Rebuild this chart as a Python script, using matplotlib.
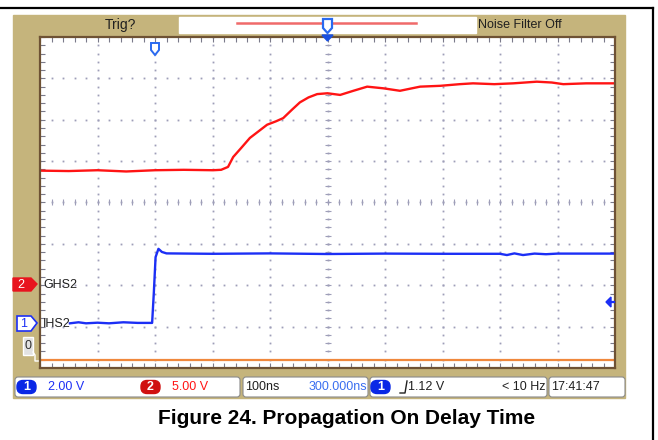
"""
Oscilloscope capture: propagation on delay time (IHS2 -> GHS2).
Screen is redrawn with matplotlib, traces from read-off points.
"""
import matplotlib
matplotlib.use("Agg")
import matplotlib.pyplot as plt
from matplotlib import font_manager
from matplotlib.patches import Rectangle, Polygon, FancyBboxPatch

W, H = 658, 440
BOLD_SANS = ["Liberation Sans", "Arial", "DejaVu Sans"]

# scope font is a narrow sans; use one if installed, else shrink regular sans
_names = {f.name for f in font_manager.fontManager.ttflist}
if "Liberation Sans Narrow" in _names:
    NARROW, NSIZE = ["Liberation Sans Narrow", "DejaVu Sans"], 11
else:
    NARROW, NSIZE = ["Liberation Sans", "DejaVu Sans"], 9

TAN = "#c5b47c"
BROWN = "#6e5234"
GRID = "#9e9eb8"
RED = "#ff1414"
BLUE = "#1c2ff5"
ORANGE = "#f0883c"

# scope settings
T_PER_DIV = 100.0       # ns/div
T_LEFT = -200.0         # ns at left edge of screen
CH1_V_PER_DIV = 2.0
CH2_V_PER_DIV = 5.0
CH1_GND_DIV = -2.92     # ground marker, divisions from center
CH2_GND_DIV = -2.0
REF_LINE_DIV = -3.8     # orange reference line

# CH1 (blue) IHS2, ns / V
ch1_t = [-148, -133, -120, -100, -80, -55, -30, -5, -2, 1, 6, 12, 20, 100, 200,
         300, 400, 500, 600, 612, 625, 640, 660, 680, 700, 800]
ch1_v = [0.0, 0.05, 0.0, 0.03, 0.0, 0.05, 0.02, 0.02, 1.5, 3.2, 3.6, 3.45, 3.38,
         3.36, 3.38, 3.35, 3.37, 3.36, 3.36, 3.3, 3.38, 3.3, 3.37, 3.34, 3.37, 3.37]

# CH2 (red) GHS2, ns / V
ch2_t = [-200, -150, -100, -50, 0, 50, 101, 115, 127, 136, 150, 165, 180, 195,
         210, 223, 238, 252, 267, 282, 300, 322, 345, 369, 397, 426, 461, 496,
         530, 553, 590, 623, 664, 690, 710, 750, 800]
ch2_v = [13.85, 13.8, 13.9, 13.75, 13.9, 13.95, 13.9, 13.95, 14.3, 15.5, 16.6,
         17.8, 18.6, 19.4, 19.8, 20.2, 21.2, 22.1, 22.7, 23.1, 23.2, 23.0, 23.5,
         24.0, 23.8, 23.5, 24.0, 24.1, 24.3, 24.4, 24.3, 24.4, 24.6, 24.5, 24.3,
         24.4, 24.4]


def to_div(t, v, vdiv, gnd):
    xs = [(ti - T_LEFT) / T_PER_DIV for ti in t]
    ys = [vi / vdiv + gnd for vi in v]
    return xs, ys


def overlay(z):
    a = fig.add_axes([0, 0, 1, 1], zorder=z)
    a.set_xlim(0, W)
    a.set_ylim(H, 0)
    a.axis("off")
    a.patch.set_alpha(0)
    return a


fig = plt.figure(figsize=(W / 100, H / 100), dpi=100)

# ========== background / frame (pixel coords) ==========
bg = overlay(0)
bg.plot([0, 653], [8, 8], color="black", lw=1.6)
bg.plot([653, 653], [8, H], color="black", lw=1.6)
bg.add_patch(Rectangle((13, 15), 612, 383, color=TAN))

# top bar
bg.text(120, 25, "Trig?", family=NARROW, fontsize=NSIZE + 1, ha="center", va="center", color="#202020")
bg.add_patch(Rectangle((179, 17), 297, 16, color="white"))
bg.plot([237, 416], [23.5, 23.5], color="#f06a6a", lw=1.8)
bg.text(478, 25, "Noise Filter Off", family=NARROW, fontsize=NSIZE, ha="left", va="center", color="#202020")

# channel markers on the left
bg.add_patch(Polygon([(13, 278), (31, 278), (37, 284), (31, 291), (13, 291)], color="#e8141e"))
bg.text(21, 285, "2", color="white", fontsize=NSIZE, family=NARROW, ha="center", va="center")
bg.add_patch(Polygon([(17, 316), (31, 316), (37, 323), (31, 331), (17, 331)],
                     facecolor="white", edgecolor=BLUE, lw=1.2))
bg.text(24, 324, "1", color=BLUE, fontsize=NSIZE, family=NARROW, ha="center", va="center")
bg.add_patch(Rectangle((23, 337), 10, 18, facecolor="#e2e2e2", edgecolor="white", lw=1))
bg.text(28, 346, "0", color="#303030", fontsize=NSIZE, family=NARROW, ha="center", va="center")
bg.plot([33, 35, 35, 40], [352, 355, 361, 361], color="white", lw=1)

# status bar
boxes = [(15, 225), (243, 125), (370, 177), (549, 76)]
for x0, w in boxes:
    bg.add_patch(FancyBboxPatch((x0, 377), w, 20, boxstyle="round,pad=0,rounding_size=3",
                                facecolor="white", edgecolor="#8a8a8a", lw=0.8))


def badge(x, y, label, color):
    bg.add_patch(FancyBboxPatch((x, y - 6.5), 19, 13, boxstyle="round,pad=0,rounding_size=6",
                                color=color))
    bg.text(x + 9.5, y, label, color="white", fontsize=NSIZE, family=NARROW,
            ha="center", va="center", weight="bold")


badge(17, 387, "1", "#0a28e6")
bg.text(48, 387, "2.00 V", color=BLUE, fontsize=NSIZE, family=NARROW, va="center")
badge(141, 387, "2", "#d01010")
bg.text(172, 387, "5.00 V", color=RED, fontsize=NSIZE, family=NARROW, va="center")
bg.text(245, 387, "100ns", color="#202020", fontsize=NSIZE, family=NARROW, va="center")
bg.text(367, 387, "300.000ns", color="#3a6ef0", fontsize=NSIZE, family=NARROW, va="center", ha="right")
badge(371, 387, "1", "#0a28e6")
bg.plot([400, 405, 407], [393, 393, 381], color="#202020", lw=1)
bg.text(408, 387, "1.12 V", color="#202020", fontsize=NSIZE, family=NARROW, va="center")
bg.text(546, 387, "< 10 Hz", color="#202020", fontsize=NSIZE, family=NARROW, va="center", ha="right")
bg.text(551, 387, "17:41:47", color="#202020", fontsize=NSIZE, family=NARROW, va="center")

# caption
bg.text(347, 418, "Figure 24. Propagation On Delay Time", family=BOLD_SANS,
        weight="bold", fontsize=15, ha="center", va="center", color="black")

# ========== scope screen ==========
ax = fig.add_axes([40 / W, 1 - 368 / H, 575 / W, 331 / H], zorder=1)
ax.set_xlim(0, 10)
ax.set_ylim(-4, 4)
ax.set_xticks([])
ax.set_yticks([])
for s in ax.spines.values():
    s.set_color(BROWN)
    s.set_linewidth(1.6)

# dotted graticule
fine_x = [i * 0.2 for i in range(51)]
fine_y = [-4 + i * 0.2 for i in range(41)]
for k in range(1, 10):
    ax.plot([k] * len(fine_y), fine_y, ls="none", marker="s", ms=1.3, mew=0, color=GRID)
for k in range(-3, 4):
    ax.plot(fine_x, [k] * len(fine_x), ls="none", marker="s", ms=1.3, mew=0, color=GRID)

# center cross ticks and edge ticks
ax.plot(fine_x, [0] * len(fine_x), ls="none", marker="|", ms=4, mew=0.8, color=GRID)
ax.plot([5] * len(fine_y), fine_y, ls="none", marker="_", ms=5, mew=0.8, color=GRID)
ax.plot(fine_x, [3.96] * len(fine_x), ls="none", marker="|", ms=4, mew=0.8, color="#7a7a8a")
ax.plot(fine_x, [-3.96] * len(fine_x), ls="none", marker="|", ms=4, mew=0.8, color="#7a7a8a")
ax.plot([0.03] * len(fine_y), fine_y, ls="none", marker="_", ms=4, mew=0.8, color="#7a7a8a")
ax.plot([9.97] * len(fine_y), fine_y, ls="none", marker="_", ms=4, mew=0.8, color="#7a7a8a")

# traces
ax.plot([0, 10], [REF_LINE_DIV, REF_LINE_DIV], color=ORANGE, lw=1.6)
x2, y2 = to_div(ch2_t, ch2_v, CH2_V_PER_DIV, CH2_GND_DIV)
ax.plot(x2, y2, color=RED, lw=1.7)
x1, y1 = to_div(ch1_t, ch1_v, CH1_V_PER_DIV, CH1_GND_DIV)
ax.plot(x1, y1, color=BLUE, lw=1.7)

# ========== foreground markers (pixel coords) ==========
fg = overlay(2)
fg.text(43, 285, "GHS2", color="#202020", fontsize=NSIZE, family=NARROW, ha="left", va="center")
fg.text(43, 324, "IHS2", color="#202020", fontsize=NSIZE, family=NARROW, ha="left", va="center")

# trigger point marker
fg.add_patch(Polygon([(151, 43), (159, 43), (159, 50), (155, 55), (151, 50)],
                     facecolor="white", edgecolor="#2a6af0", lw=1.4))
# horizontal position marker in top bar
fg.add_patch(Polygon([(323, 19), (332, 19), (332, 28), (327.5, 33), (323, 28)],
                     facecolor="white", edgecolor="#2a6af0", lw=1.6))
fg.add_patch(Polygon([(322, 35), (333, 35), (327.5, 41)], color="#1a50e0"))
# trigger level arrow
fg.add_patch(Polygon([(606, 302), (611, 297), (611, 307)], color=BLUE))
fg.plot([610, 614], [302, 302], color=BLUE, lw=1.6)

fig.savefig("out.png", dpi=100)
